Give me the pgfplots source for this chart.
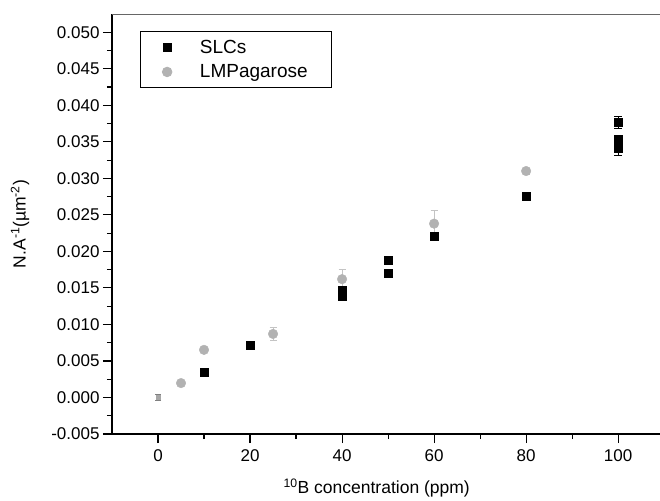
\documentclass[border=0pt]{standalone}
\usepackage{pgfplots}
\pgfplotsset{compat=1.18}
\usepackage{fontspec}
\setmainfont{Liberation Sans}
\definecolor{ptgray}{RGB}{178,178,178}
\definecolor{errgray}{RGB}{196,196,196}

\begin{document}
\begin{tikzpicture}
\begin{axis}[
    name=ax, at={(0,0)}, anchor=south west,
    scale only axis, width=548pt, height=420pt,
    xmin=-10, xmax=109.1, ymin=-0.005, ymax=0.0525,
    axis x line*=bottom, axis y line*=left,
    axis line style={-, line width=1.2pt},
    xtick={0,20,40,60,80,100}, minor x tick num=1,
    ytick={-0.005,0,0.005,0.01,0.015,0.02,0.025,0.03,0.035,0.04,0.045,0.05},
    minor y tick num=1,
    tick align=outside, major tick length=9pt, minor tick length=5pt,
    tick style={line width=1.1pt, black},
    tick label style={font=\fontsize{17}{20}\selectfont},
    xticklabel style={/pgf/number format/assume math mode=true, yshift=-3pt},
    yticklabel style={/pgf/number format/.cd, fixed, fixed zerofill, precision=3, assume math mode=true},
    scaled y ticks=false,
    every axis x label/.style={at={(rel axis cs:0.483,0)}, anchor=center, yshift=-54pt, font=\fontsize{17.5}{20}\selectfont},
    every axis y label/.style={at={(rel axis cs:0,0.5)}, xshift=-92pt, rotate=90, anchor=center, font=\fontsize{17.5}{20}\selectfont},
    xlabel={\textsuperscript{10}B concentration (ppm)},
    ylabel={N.A\textsuperscript{-1}(µm\textsuperscript{-2})},
    legend cell align=left,
    legend style={at={(0.051,0.9595)}, anchor=north west, draw=black, line width=0.8pt,
        font=\fontsize{19}{22}\selectfont, inner xsep=22pt, inner ysep=6.5pt, row sep=6pt,
        /tikz/every odd column/.append style={column sep=26pt}},
]
% zero point (tiny, grey)
\addplot[only marks, mark=square*, mark size=2pt, color=gray!70, forget plot,
    error bars/.cd, y dir=both, y explicit,
    error bar style={gray, line width=0.7pt}, error mark options={rotate=90, mark size=3pt, gray}]
    table[x=x, y=y, y error=e] {
x y e
0 0 0.0004
};
\addplot[only marks, mark=square*, mark size=4pt, color=black,
    error bars/.cd, y dir=both, y explicit,
    error bar style={black, line width=0.8pt}, error mark options={rotate=90, mark size=4pt, black}]
    table[x=x, y=y, y error=e] {
x y e
10 0.00347 0.0002
20 0.0071 0.0003
40 0.0147 0.0005
40 0.0138 0.0005
50 0.0188 0.0004
50 0.0170 0.0005
60 0.0221 0.0004
80 0.0275 0.0005
100 0.0377 0.0008
100 0.0353 0.0006
100 0.0341 0.0009
};
\addlegendentry{SLCs}
\addplot[only marks, mark=*, mark size=4.8pt, color=ptgray,
    error bars/.cd, y dir=both, y explicit,
    error bar style={errgray, line width=0.8pt}, error mark options={rotate=90, mark size=3.5pt, errgray}]
    table[x=x, y=y, y error=e] {
x y e
5 0.00197 0.0002
10 0.00652 0.0002
25 0.0087 0.0009
40 0.0162 0.0014
60 0.0238 0.0019
80 0.0310 0.0004
};
\addlegendentry{LMPagarose}
\draw[gray!80!black, line width=0.9pt] (rel axis cs:0,1) -- (rel axis cs:1,1);
\end{axis}
\pgfresetboundingbox
\path (ax.south west) ++(-112pt,-66pt) rectangle ++(660pt,500pt);
\end{tikzpicture}
\end{document}
